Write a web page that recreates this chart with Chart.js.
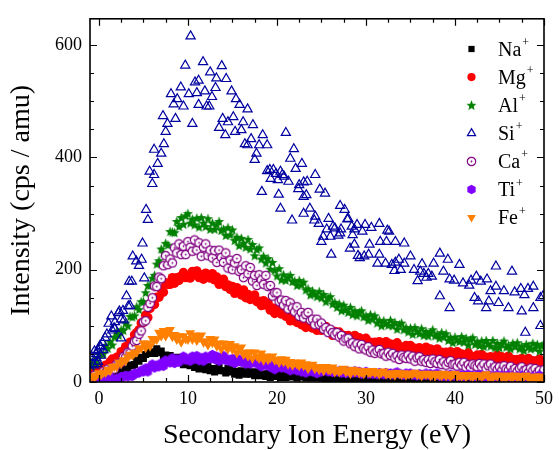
<!DOCTYPE html>
<html><head><meta charset="utf-8">
<script src="https://cdn.jsdelivr.net/npm/chart.js@4/dist/chart.umd.min.js"></script>
<style>html,body{margin:0;padding:0;background:#fff}canvas{display:block}</style>
</head><body>
<canvas id="c" width="559" height="450"></canvas>
<script>
// ---------- data ----------
const energy = [
  -1,-0.75,-0.5,-0.25,0,0.25,0.5,0.75,
  1,1.25,1.5,1.75,2,2.25,2.5,2.75,
  3,3.25,3.5,3.75,4,4.25,4.5,4.75,
  5,5.25,5.5,5.75,6,6.25,6.5,6.75,
  7,7.25,7.5,7.75,8,8.25,8.5,8.75,
  9,9.25,9.5,9.75,10,10.25,10.5,10.75,
  11,11.25,11.5,11.75,12,12.25,12.5,12.75,
  13,13.25,13.5,13.75,14,14.25,14.5,14.75,
  15,15.25,15.5,15.75,16,16.25,16.5,16.75,
  17,17.25,17.5,17.75,18,18.25,18.5,18.75,
  19,19.25,19.5,19.75,20,20.25,20.5,20.75,
  21,21.25,21.5,21.75,22,22.25,22.5,22.75,
  23,23.25,23.5,23.75,24,24.25,24.5,24.75,
  25,25.25,25.5,25.75,26,26.25,26.5,26.75,
  27,27.25,27.5,27.75,28,28.25,28.5,28.75,
  29,29.25,29.5,29.75,30,30.25,30.5,30.75,
  31,31.25,31.5,31.75,32,32.25,32.5,32.75,
  33,33.25,33.5,33.75,34,34.25,34.5,34.75,
  35,35.25,35.5,35.75,36,36.25,36.5,36.75,
  37,37.25,37.5,37.75,38,38.25,38.5,38.75,
  39,39.25,39.5,39.75,40,40.25,40.5,40.75,
  41,41.25,41.5,41.75,42,42.25,42.5,42.75,
  43,43.25,43.5,43.75,44,44.25,44.5,44.75,
  45,45.25,45.5,45.75,46,46.25,46.5,46.75,
  47,47.25,47.5,47.75,48,48.25,48.5,48.75,
  49,49.25,49.5,49.75,50];

const naValues = [
  4,1,3,2,6,6,6,10,
  8,12,10,14,16,15,18,17,
  23,20,30,29,31,39,37,44,
  42,49,56,51,54,51,59,52,
  55,45,48,40,47,42,39,44,
  36,40,31,36,38,29,32,26,
  31,23,31,25,22,28,20,24,
  18,23,26,20,20,16,24,18,
  23,14,19,12,20,16,14,20,
  14,18,11,16,18,11,14,10,
  15,8,15,11,10,14,8,12,
  8,12,14,9,10,7,13,9,
  11,7,9,7,9,8,7,10,
  7,10,5,8,9,6,6,4,
  7,5,8,6,4,6,4,5,
  4,5,6,4,4,3,5,4,
  5,1,3,1,4,3,2,5,
  2,4,0,3,4,1,2,0,
  2,1,3,2,1,3,1,1,
  0,1,2,0,1,0,2,1,
  1,0,1,0,1,1,0,1,
  0,1,0,1,1,0,1,0,
  1,0,1,0,0,1,0,1,
  0,1,0,0,1,0,0,1,
  0,0,1,0,0,1,0,0,
  0,0,1,0,0];

const mgValues = [
  17,12,21,19,20,27,23,30,
  29,36,41,39,44,45,54,55,
  63,62,71,72,84,88,93,105,
  106,119,115,131,141,138,151,151,
  165,160,177,174,174,186,176,186,
  181,189,195,186,190,185,197,191,
  198,186,191,183,194,189,185,193,
  182,187,174,181,183,170,173,165,
  170,158,168,160,155,164,150,156,
  147,152,155,143,144,136,145,137,
  141,128,132,122,131,126,121,129,
  117,122,109,117,119,106,109,102,
  108,97,107,100,96,105,92,99,
  92,97,99,90,90,83,90,84,
  89,79,83,75,83,79,76,83,
  74,79,69,75,78,68,71,66,
  71,63,72,67,64,72,61,68,
  61,67,70,61,62,57,65,60,
  65,56,60,53,61,57,54,62,
  53,59,49,56,59,50,53,48,
  53,45,54,49,46,54,43,50,
  43,49,52,44,45,40,48,43,
  49,40,44,37,45,42,40,48,
  39,45,35,42,46,37,40,35,
  40,32,42,37,34,42,31,38,
  32,38,41,33,35];

const alValues = [
  36,29,39,34,49,49,50,65,
  60,72,66,80,89,83,93,92,
  105,100,117,116,118,134,129,143,
  143,159,172,172,185,190,210,216,
  237,230,247,244,268,267,266,286,
  277,293,281,296,300,283,290,280,
  292,276,293,283,277,291,272,283,
  272,280,286,270,272,261,275,262,
  271,252,258,243,256,247,240,254,
  237,245,225,236,239,219,224,212,
  220,201,213,199,189,202,182,191,
  181,187,190,179,180,172,181,173,
  178,164,166,155,162,157,152,161,
  150,156,143,150,152,139,142,133,
  139,127,137,129,124,133,120,127,
  118,124,127,116,118,110,120,112,
  118,105,110,100,109,104,101,110,
  100,106,94,102,105,93,97,89,
  96,85,97,90,86,95,83,90,
  82,88,93,82,85,78,88,80,
  86,74,79,70,80,75,72,81,
  71,78,66,75,79,67,72,65,
  73,63,74,68,64,74,61,69,
  61,68,73,62,65,59,69,63,
  70,59,64,56,67,63,59,69,
  60,67,55,64,68];

const caValues = [
  2,7,12,7,11,10,19,17,
  23,19,26,23,32,33,35,45,
  44,53,52,64,72,74,85,91,
  107,109,133,140,150,171,170,187,
  184,207,225,209,219,212,239,230,
  246,227,242,227,250,240,233,253,
  235,248,224,240,246,225,235,221,
  234,213,235,222,213,230,203,217,
  200,212,220,197,200,186,207,193,
  204,180,190,172,191,182,174,190,
  170,172,153,159,159,143,146,137,
  145,130,141,132,125,134,117,124,
  114,120,124,110,112,102,112,102,
  105,94,97,88,94,88,84,88,
  80,83,73,77,78,68,70,63,
  68,59,67,60,57,63,53,57,
  51,55,58,50,51,46,53,47,
  51,43,47,40,48,44,42,48,
  41,46,37,43,45,37,40,35,
  40,33,41,36,33,40,31,36,
  30,35,38,31,32,28,35,30,
  35,26,31,25,32,29,27,33,
  27,32,23,29,32,23,27,22,
  27,20,29,23,21,28,19,24,
  19,24,27,20,22,17,25,20,
  24,16,21,14,22];

const tiValues = [
  1,0,3,1,0,4,0,3,
  1,4,7,4,6,5,10,9,
  12,9,12,10,16,15,16,21,
  18,25,18,27,32,25,30,27,
  34,28,39,35,34,43,33,41,
  35,42,46,39,41,37,46,41,
  47,38,43,37,46,43,41,49,
  40,46,37,43,47,38,41,36,
  42,33,43,37,35,42,32,38,
  32,37,40,32,33,27,36,30,
  35,26,30,22,31,27,25,32,
  24,29,20,26,30,20,24,18,
  24,16,25,20,18,25,15,22,
  18,21,22,18,19,17,20,18,
  20,16,18,15,19,17,16,20,
  16,19,14,17,19,14,16,14,
  17,13,17,15,13,17,13,16,
  13,16,18,14,14,12,16,14,
  16,12,14,11,15,13,12,16,
  12,15,11,14,16,10,12,10,
  13,9,14,12,10,14,10,13,
  9,12,14,10,11,9,13,11,
  13,9,11,8,12,10,9,13,
  9,12,8,11,13,8,10,8,
  11,7,12,10,8,11,7,10,
  7,10,12,8,9];

const feValues = [
  7,11,8,12,16,13,17,17,
  22,20,27,28,28,35,33,39,
  38,44,49,48,52,53,60,60,
  69,61,69,64,77,76,76,88,
  82,91,82,90,93,81,84,76,
  82,71,82,77,76,87,76,83,
  74,79,83,71,73,66,77,70,
  76,64,69,59,69,63,59,68,
  58,64,52,59,62,49,53,46,
  53,42,53,46,42,51,39,46,
  40,43,46,39,40,35,41,36,
  40,32,36,30,35,32,29,35,
  29,32,24,30,31,24,27,22,
  27,20,27,22,21,26,18,22,
  18,21,24,18,20,15,22,18,
  21,16,18,15,20,17,16,20,
  16,18,14,17,19,14,15,13,
  16,12,17,15,13,16,12,15,
  12,15,17,13,14,11,15,13,
  15,11,13,10,15,12,11,15,
  11,14,10,13,15,10,12,10,
  13,9,13,11,9,13,9,12,
  9,12,14,9,10,8,12,10,
  12,8,10,7,12,9,8,12,
  8,11,7,10,12,7,9,7,
  10,5,10,8,6];

const siEnergy = [-0.9,-0.8,-0.6,-0.5,-0.3,-0.3,-0.2,-0.1,-0.1,0.1,
  0.2,0.2,0.4,0.5,0.7,0.9,1.1,1.4,1.5,1.7,
  1.8,1.8,2.2,2.3,2.5,2.5,2.7,2.8,3.1,3.3,
  3.4,3.5,3.7,3.8,4.2,4.5,4.8,4.9,5.1,5.3,
  5.5,5.7,6.0,6.2,6.2,6.6,7.0,7.2,7.3,7.5,
  7.7,8.1,8.4,8.6,8.8,9.2,9.5,9.7,10.1,10.3,
  10.5,10.8,11.0,11.2,11.2,11.7,11.9,12.1,12.4,12.5,
  12.7,13.1,13.2,13.5,13.8,13.9,14.2,14.3,14.5,14.9,
  15.1,15.3,15.4,15.8,16.0,16.2,16.4,16.7,16.7,17.1,
  17.3,17.5,17.7,18.0,18.3,18.4,18.9,18.9,19.2,19.3,
  19.6,19.9,20.1,20.2,20.4,20.4,20.6,20.8,21.0,21.3,
  21.5,21.7,21.9,22.1,22.4,22.5,22.8,23.0,23.0,23.0,
  23.3,23.4,23.7,24.2,24.3,24.3,24.7,24.8,25.0,25.2,
  25.4,25.6,25.8,26.0,26.1,26.3,26.5,26.9,27.1,27.1,
  27.2,27.6,27.9,28.0,28.2,28.4,28.5,28.7,28.7,29.0,
  29.1,29.3,29.6,29.8,29.9,30.3,30.4,30.6,31.3,31.5,
  31.5,31.6,32.2,32.3,32.4,32.6,32.9,33.2,33.3,33.3,
  33.7,33.9,34.3,34.3,35.0,35.4,35.8,36.1,36.3,36.5,
  36.8,37.0,37.4,37.6,38.3,38.3,38.7,39.2,39.4,39.4,
  39.9,40.5,40.9,41.6,41.8,42.2,42.4,42.6,42.9,43.5,
  43.6,43.8,44.0,44.6,44.6,44.9,45.5,46.0,46.4,46.7,
  47.4,47.5,47.8,47.9,48.2,48.8,48.8,49.6,49.6,49.9];

const siValues = [20,45,30,55,50,43,32,57,36,64,
  62,47,70,57,79,85,104,117,92,96,
  107,95,123,126,112,78,127,110,153,135,
  179,136,179,224,215,207,218,247,185,307,
  289,375,353,369,414,389,407,474,424,446,
  460,513,495,469,504,525,491,564,513,616,
  460,534,515,537,494,570,518,491,491,552,
  508,524,541,453,563,469,440,540,463,518,
  472,446,504,494,449,463,424,486,422,433,
  458,396,407,422,339,440,422,376,378,362,
  378,371,360,334,375,309,369,366,444,357,
  398,288,415,380,344,351,389,330,300,356,
  333,357,309,288,369,295,282,343,250,259,
  336,272,291,259,227,277,274,261,314,265,
  272,307,290,291,238,277,262,245,272,280,
  225,221,268,224,280,227,245,275,211,282,
  227,250,211,250,270,268,209,198,250,213,
  218,200,247,211,224,200,180,197,210,193,
  186,193,188,211,229,153,197,218,183,132,
  181,209,176,172,181,150,188,144,179,132,
  183,144,162,206,170,141,162,132,197,160,
  166,126,155,88,166,170,132,150,100,153];

const seriesNames = ['Na', 'Mg', 'Al', 'Si', 'Ca', 'Ti', 'Fe'];
const xTicks = [0, 10, 20, 30, 40, 50];
const yTicks = [0, 200, 400, 600];
const xTitle = 'Secondary Ion Energy (eV)';
const yTitle = 'Intensity (cps / amu)';

// ---------- helpers ----------
const FONT = "'Liberation Serif', 'Times New Roman', serif";
function pts(xs, ys) { return xs.map((x, i) => ({x: x, y: ys[i]})); }

function makeMarker(kind, color) {
  const c = document.createElement('canvas');
  c.width = 11; c.height = 11;
  const g = c.getContext('2d');
  const cx = 5.5, cy = 5.5;
  g.fillStyle = color; g.strokeStyle = color;
  g.beginPath();
  if (kind === 'star') {
    for (let k = 0; k < 10; k++) {
      const r = (k % 2 === 0) ? 5.3 : 2.3;
      const a = -Math.PI / 2 + k * Math.PI / 5;
      const px = cx + r * Math.cos(a), py = cy + 0.4 + r * Math.sin(a);
      if (k === 0) g.moveTo(px, py); else g.lineTo(px, py);
    }
    g.closePath(); g.fill();
  } else if (kind === 'hex') {
    for (let k = 0; k < 6; k++) {
      const a = -Math.PI / 2 + k * Math.PI / 3;
      const px = cx + 4.8 * Math.cos(a), py = cy + 4.8 * Math.sin(a);
      if (k === 0) g.moveTo(px, py); else g.lineTo(px, py);
    }
    g.closePath(); g.fill();
  } else if (kind === 'ring') {
    g.arc(cx, cy, 4.2, 0, Math.PI * 2);
    g.fillStyle = '#ffffff'; g.fill();
    g.lineWidth = 1.2; g.strokeStyle = color; g.stroke();
    g.beginPath(); g.arc(cx, cy, 0.9, 0, Math.PI * 2);
    g.fillStyle = color; g.fill();
  }
  return c;
}

const colNa = '#000000', colMg = '#FF0000', colAl = '#008000', colSi = '#0000A0',
      colCa = '#800080', colTi = '#8000FF', colFe = '#FF8000';

const datasets = [
  {label: seriesNames[0], data: pts(energy, naValues), pointStyle: 'rect', pointRadius: 5,
   backgroundColor: colNa, borderColor: colNa, borderWidth: 0, order: 6},
  {label: seriesNames[1], data: pts(energy, mgValues), pointStyle: 'circle', pointRadius: 4.7,
   backgroundColor: colMg, borderColor: colMg, borderWidth: 0, order: 5},
  {label: seriesNames[2], data: pts(energy, alValues), pointStyle: makeMarker('star', colAl), pointRadius: 5,
   backgroundColor: colAl, borderColor: colAl, borderWidth: 0, order: 4},
  {label: seriesNames[3], data: pts(siEnergy, siValues), pointStyle: 'triangle', pointRadius: 5.3,
   backgroundColor: 'rgba(0,0,0,0)', borderColor: colSi, borderWidth: 1.2, order: 3},
  {label: seriesNames[4], data: pts(energy, caValues), pointStyle: makeMarker('ring', colCa), pointRadius: 5,
   backgroundColor: colCa, borderColor: colCa, borderWidth: 0, order: 2},
  {label: seriesNames[5], data: pts(energy, tiValues), pointStyle: makeMarker('hex', colTi), pointRadius: 5,
   backgroundColor: colTi, borderColor: colTi, borderWidth: 0, order: 1},
  {label: seriesNames[6], data: pts(energy, feValues), pointStyle: 'triangle', pointRotation: 180, pointRadius: 5.6,
   backgroundColor: colFe, borderColor: colFe, borderWidth: 0, order: 0}
];
datasets.forEach(d => { d.pointHoverRadius = d.pointRadius; d.showLine = false; });

// frame with inward ticks on all four sides
const framePlugin = {
  id: 'frame',
  afterDatasetsDraw(chart) {
    const {ctx, chartArea: a, scales: {x, y}} = chart;
    ctx.save();
    ctx.strokeStyle = '#000'; ctx.lineWidth = 1.6;
    ctx.strokeRect(a.left, a.top, a.right - a.left, a.bottom - a.top);
    ctx.lineWidth = 1.2;
    ctx.beginPath();
    for (let v = 0; v <= 50.001; v += 2.5) {
      const px = Math.round(x.getPixelForValue(v)) + 0.5;
      const len = (Math.abs(v % 10) < 1e-6) ? 7 : 4;
      ctx.moveTo(px, a.bottom); ctx.lineTo(px, a.bottom - len);
      ctx.moveTo(px, a.top); ctx.lineTo(px, a.top + len);
    }
    for (let v = 0; v <= y.max; v += 50) {
      const py = Math.round(y.getPixelForValue(v)) + 0.5;
      const len = (v % 200 === 0) ? 7 : 4;
      ctx.moveTo(a.left, py); ctx.lineTo(a.left + len, py);
      ctx.moveTo(a.right, py); ctx.lineTo(a.right - len, py);
    }
    ctx.stroke();
    ctx.restore();
  }
};

// legend inside the plot, with superscript charges
const legendPlugin = {
  id: 'insideLegend',
  afterDraw(chart) {
    const ctx = chart.ctx;
    chart.data.datasets.forEach((ds, i) => {
      const y = 49 + i * 28.1;
      const x = 471.5;
      ctx.save();
      ctx.fillStyle = ds.backgroundColor;
      ctx.strokeStyle = ds.borderColor;
      ctx.lineWidth = ds.borderWidth;
      Chart.helpers.drawPoint(ctx, {
        pointStyle: ds.pointStyle, radius: ds.pointRadius - 0.6,
        rotation: ds.pointRotation || 0, borderWidth: ds.borderWidth
      }, x, y);
      ctx.fillStyle = '#000';
      ctx.textBaseline = 'alphabetic';
      ctx.textAlign = 'left';
      ctx.font = '20px ' + FONT;
      ctx.fillText(ds.label, 498, y + 6.5);
      const w = ctx.measureText(ds.label).width;
      ctx.font = '12px ' + FONT;
      ctx.fillText('+', 498 + w + 1, y - 3);
      ctx.restore();
    });
  }
};

new Chart(document.getElementById('c'), {
  type: 'scatter',
  data: {datasets: datasets},
  options: {
    responsive: false,
    animation: false,
    devicePixelRatio: 1,
    layout: {padding: {top: 17, right: 10, left: 0, bottom: 0}},
    plugins: {legend: {display: false}, tooltip: {enabled: false}},
    scales: {
      x: {
        type: 'linear', min: -1, max: 50,
        grid: {display: false, drawTicks: false},
        border: {display: false},
        afterBuildTicks: s => { s.ticks = xTicks.map(v => ({value: v})); },
        ticks: {font: {family: FONT, size: 18}, color: '#000', padding: 6, maxRotation: 0},
        title: {display: true, text: xTitle, color: '#000',
                font: {family: FONT, size: 28, lineHeight: 1.0}, padding: {top: 0, bottom: 0}},
        afterFit: s => { s.height = 68; }
      },
      y: {
        type: 'linear', min: 0, max: 647,
        grid: {display: false, drawTicks: false},
        border: {display: false},
        afterBuildTicks: s => { s.ticks = yTicks.map(v => ({value: v})); },
        ticks: {font: {family: FONT, size: 18}, color: '#000', padding: 8},
        title: {display: true, text: yTitle, color: '#000',
                font: {family: FONT, size: 28, lineHeight: 1.2}, padding: {top: 5, bottom: 0}},
        afterFit: s => { s.width = 90; }
      }
    }
  },
  plugins: [framePlugin, legendPlugin]
});
</script>
</body></html>
